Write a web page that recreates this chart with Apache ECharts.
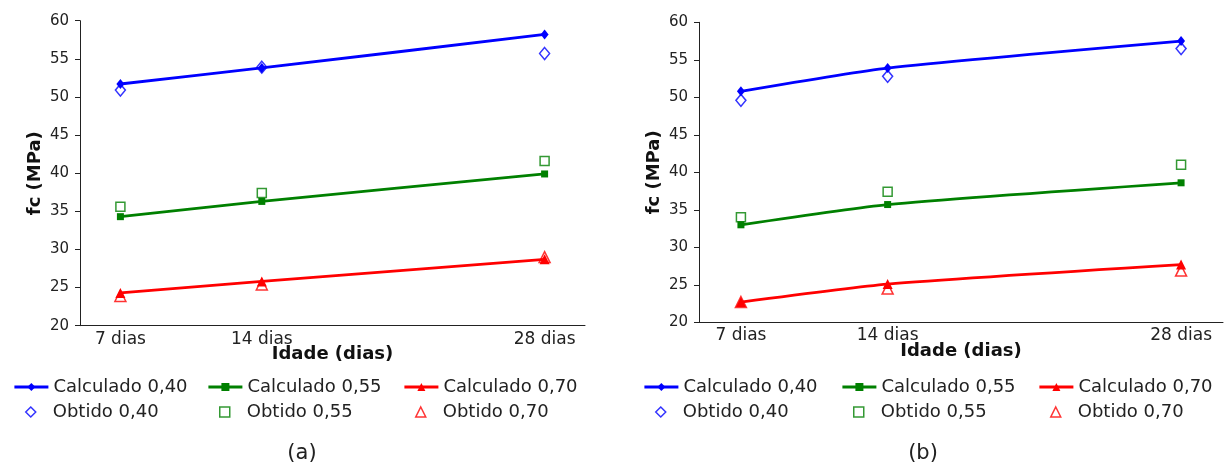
<!DOCTYPE html>
<html>
<head>
<meta charset="utf-8">
<script src="https://cdn.jsdelivr.net/npm/echarts@6/dist/echarts.min.js"></script>
<style>
html,body{margin:0;padding:0;background:#fff;}
#c{width:1228px;height:466px;}
</style>
</head>
<body>
<div id="c"></div>
<script>
// ---- data ----
const days = [7, 14, 28];
const xTickDays = [7, 14, 28];
const yTicks = [20, 25, 30, 35, 40, 45, 50, 55, 60];
const seriesNames = ['Calculado 0,40', 'Calculado 0,55', 'Calculado 0,70', 'Obtido 0,40', 'Obtido 0,55', 'Obtido 0,70'];
const panelLabels = ['(a)', '(b)'];

// panel (a)
const a_calc040 = [51.7, 53.8, 58.2];
const a_calc055 = [34.3, 36.3, 39.9];
const a_calc070 = [24.3, 25.8, 28.7];
const a_obt040  = [50.9, 53.9, 55.7];
const a_obt055  = [35.6, 37.4, 41.6];
const a_obt070  = [23.9, 25.4, 29.0];

// panel (b)
const b_calc040 = [50.8, 53.9, 57.5];
const b_calc055 = [33.0, 35.7, 38.6];
const b_calc070 = [22.7, 25.1, 27.7];
const b_obt040  = [49.6, 52.8, 56.5];
const b_obt055  = [34.0, 37.4, 41.0];
const b_obt070  = [22.7, 24.5, 26.9];

// ---- build ----
const FONT = 'DejaVu Sans';
const colors = ['#0000FF', '#008000', '#FF0000'];
const calcSymbols = ['diamond', 'rect', 'triangle'];
const calcSizes = [[8, 10], 7, 10];
const obtSymbols = ['diamond', 'rect', 'triangle'];
const obtSizes = [[10, 12], 9, 11];

function pairs(vals) { return days.map((d, i) => [d, vals[i]]); }

const panels = [
  { calc: [a_calc040, a_calc055, a_calc070], obt: [a_obt040, a_obt055, a_obt070],
    grid: { left: 80, right: 643, top: 20.7, bottom: 140.3 },
    legendLeft: [13, 207, 403], labelX: 302 },
  { calc: [b_calc040, b_calc055, b_calc070], obt: [b_obt040, b_obt055, b_obt070],
    grid: { left: 699, right: 5, top: 22.3, bottom: 143.7 },
    legendLeft: [643, 841, 1038], labelX: 923 }
];

const grids = [], xAxes = [], yAxes = [], series = [], legends = [], graphics = [];
panels.forEach((p, pi) => {
  grids.push(Object.assign({ containLabel: false }, p.grid));
  xAxes.push({
    type: 'value', gridIndex: pi, min: 5, max: 30,
    axisLine: { show: true, lineStyle: { color: '#222', width: 1 } },
    axisTick: { show: false },
    splitLine: { show: false },
    axisLabel: { customValues: xTickDays, formatter: v => v + ' dias', color: '#222', fontFamily: FONT, fontSize: 17, margin: 5 },
    name: 'Idade (dias)', nameLocation: 'middle', nameGap: 20, nameMoveOverlap: false,
    nameTextStyle: { fontFamily: FONT, fontSize: 18, fontWeight: 'bold', color: '#111' }
  });
  yAxes.push({
    type: 'value', gridIndex: pi, min: 20, max: 60, interval: 5,
    axisLine: { show: true, lineStyle: { color: '#222', width: 1 } },
    axisTick: { show: true, length: 5, lineStyle: { color: '#222' } },
    splitLine: { show: false },
    axisLabel: { customValues: yTicks, color: '#222', fontFamily: FONT, fontSize: 15, margin: 11 },
    name: 'fc (MPa)', nameLocation: 'middle', nameGap: 36, nameRotate: 90, nameMoveOverlap: false,
    nameTextStyle: { fontFamily: FONT, fontSize: 18, fontWeight: 'bold', color: '#111' }
  });
  for (let k = 0; k < 3; k++) {
    series.push({
      name: seriesNames[k], type: 'line', xAxisIndex: pi, yAxisIndex: pi,
      data: pairs(p.calc[k]), smooth: 0.2,
      symbol: calcSymbols[k], symbolSize: calcSizes[k], showSymbol: true,
      lineStyle: { color: colors[k], width: 2.8 },
      itemStyle: { color: colors[k] },
      z: 3
    });
    series.push({
      name: seriesNames[k + 3], type: 'scatter', xAxisIndex: pi, yAxisIndex: pi,
      data: pairs(p.obt[k]),
      symbol: obtSymbols[k], symbolSize: obtSizes[k], symbolKeepAspect: true,
      itemStyle: { color: 'rgba(255,255,255,0)', borderColor: colors[k], borderWidth: 1.5 },
      z: 4
    });
    legends.push({
      orient: 'vertical', left: p.legendLeft[k], top: 378, padding: 0,
      itemWidth: 34, itemHeight: 10,
      data: [seriesNames[k]],
      lineStyle: { width: 2.8 },
      textStyle: { fontFamily: FONT, fontSize: 18, color: '#222' },
      selectedMode: false
    });
    legends.push({
      orient: 'vertical', left: p.legendLeft[k] + 12, top: 403, padding: 0,
      itemWidth: 10, itemHeight: 10,
      data: [{ name: seriesNames[k + 3], icon: obtSymbols[k] }],
      itemStyle: { borderWidth: 1.5 },
      textStyle: { fontFamily: FONT, fontSize: 18, color: '#222', padding: [0, 0, 0, 12] },
      selectedMode: false
    });
  }
  graphics.push({
    type: 'text', x: p.labelX, y: 454,
    style: { text: panelLabels[pi], font: '21px "DejaVu Sans"', fill: '#222', textAlign: 'center', textVerticalAlign: 'middle' }
  });
});

const chart = echarts.init(document.getElementById('c'), null, { renderer: 'canvas' });
chart.setOption({
  animation: false,
  backgroundColor: '#fff',
  grid: grids, xAxis: xAxes, yAxis: yAxes,
  legend: legends, series: series, graphic: graphics
});
</script>
</body>
</html>
